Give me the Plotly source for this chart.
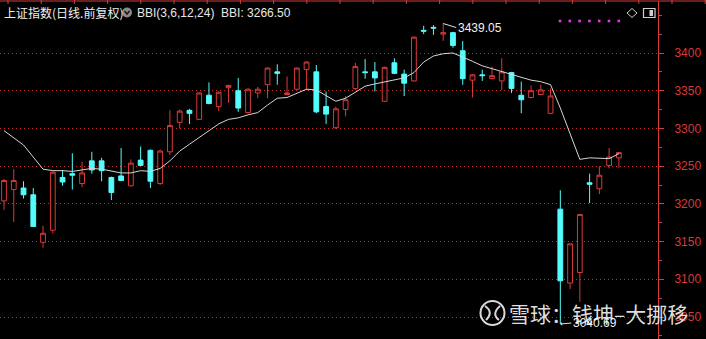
import plotly.graph_objects as go

# ---------------- data ----------------
days = list(range(64))
opens = [3204, 3219, 3221, 3212, 3149, 3165, 3235, 3240, 3227, 3257,
         3257, 3235, 3237, 3224, 3258, 3271, 3227, 3269, 3308, 3324,
         3312, 3344, 3329, 3354, 3350, 3321, 3347, 3358, 3375, 3345,
         3352, 3378, 3375, 3329, 3301, 3325, 3353, 3375, 3375, 3336,
         3387, 3372, 3363, 3430, 3434, 3425, 3427, 3403, 3364, 3371,
         3366, 3363, 3374, 3344, 3341, 3345, 3320, 3193, 3095, 3109,
         3228, 3220, 3251, 3261]
highs = [3233, 3246, 3230, 3221, 3171, 3243, 3245, 3267, 3256, 3269,
         3261, 3236, 3274, 3259, 3276, 3272, 3272, 3324, 3325, 3326,
         3348, 3361, 3349, 3358, 3367, 3353, 3355, 3381, 3385, 3369,
         3381, 3389, 3384, 3349, 3329, 3343, 3387, 3392, 3388, 3382,
         3393, 3378, 3422, 3436, 3437, 3439.05, 3428, 3416, 3372, 3378,
         3382, 3393, 3375, 3362, 3357, 3358, 3353, 3218, 3147, 3186,
         3240, 3250, 3274, 3269]
lows = [3192, 3176, 3207, 3170, 3142, 3161, 3224, 3219, 3222, 3240,
        3230, 3205, 3230, 3223, 3250, 3221, 3225, 3265, 3300, 3306,
        3311, 3332, 3323, 3334, 3322, 3320, 3340, 3340, 3358, 3344,
        3351, 3351, 3320, 3306, 3299, 3316, 3351, 3366, 3349, 3335,
        3372, 3343, 3362, 3425, 3424, 3416, 3407, 3358, 3341, 3363,
        3365, 3351, 3347, 3320, 3340, 3344, 3319, 3040.69, 3087, 3070,
        3201, 3213, 3247, 3248]
closes = [3231, 3231, 3212, 3170, 3161, 3242, 3229, 3238, 3241, 3245,
          3244, 3215, 3231, 3254, 3251, 3230, 3270, 3304, 3323, 3320,
          3347, 3333, 3348, 3357, 3327, 3352, 3352, 3380, 3373, 3347,
          3380, 3388, 3322, 3319, 3326, 3338, 3382, 3374, 3367, 3381,
          3373, 3360, 3421, 3429, 3433, 3427, 3410, 3366, 3371, 3370,
          3370, 3375, 3353, 3338, 3350, 3351, 3343, 3098, 3147, 3186,
          3226, 3238, 3262, 3268]
bbi = [3297, 3288, 3278, 3262, 3246, 3244, 3244, 3243, 3245, 3247,
       3246, 3243, 3241, 3241, 3244, 3243, 3247, 3257, 3270, 3279,
       3288, 3298, 3306, 3312, 3314, 3318, 3321, 3331, 3340, 3341,
       3347, 3352, 3351, 3344, 3336, 3340, 3348, 3356, 3359, 3362,
       3364, 3367, 3374, 3388, 3396, 3399, 3400, 3395, 3389, 3383,
       3379, 3375, 3371, 3368, 3364, 3362, 3358, 3327, 3293, 3259,
       3261, 3261, 3260, 3266.5]
price_ticks = [3050, 3100, 3150, 3200, 3250, 3300, 3350, 3400]
hi_label = "3439.05"
lo_label = "3040.69"
title_main = "上证指数(日线.前复权)"
title_ind = "BBI(3,6,12,24)  BBI: 3266.50"
watermark = "雪球：钱坤–大挪移"

# ---------------- styling ----------------
RED = "#d83a3a"
CYAN = "#54fcfc"
GRID = "#c03030"
W, T, H = 658.0, 1.0, 338.0


def px(x):
    return x / W


def py(y):
    return 1 - (y - T) / H


fig = go.Figure()
fig.add_trace(go.Candlestick(
    x=days, open=opens, high=highs, low=lows, close=closes,
    increasing=dict(line=dict(color=RED, width=1), fillcolor="#000000"),
    decreasing=dict(line=dict(color=CYAN, width=1), fillcolor=CYAN),
    whiskerwidth=0, showlegend=False, hoverinfo="skip"))
fig.add_trace(go.Scatter(
    x=days, y=bbi, mode="lines", line=dict(color="#d6d6d6", width=1),
    showlegend=False, hoverinfo="skip"))

shapes = []
# top border line with little ticks
shapes.append(dict(type="line", xref="paper", yref="paper", x0=0, x1=706 / W,
                   y0=py(1), y1=py(1), line=dict(color=RED, width=1)))
k = 8.0
while k < 706:
    shapes.append(dict(type="line", xref="paper", yref="paper", x0=px(k), x1=px(k),
                       y0=py(0), y1=py(4), line=dict(color=RED, width=1)))
    k += 33.2
# title icon (grey circle with chevron)
shapes.append(dict(type="circle", xref="paper", yref="paper", x0=px(122), x1=px(132),
                   y0=py(17.5), y1=py(7.5), fillcolor="#8a8a8a", line=dict(width=0)))
shapes.append(dict(type="path", xref="paper", yref="paper",
                   path=f"M {px(124.5)} {py(11)} L {px(127)} {py(14)} L {px(129.5)} {py(11)}",
                   line=dict(color="#1a1a1a", width=1.5)))
# magenta dots
for i in range(7):
    cx = 560 + i * 9.8
    shapes.append(dict(type="rect", xref="paper", yref="paper", x0=px(cx - 1.3), x1=px(cx + 1.3),
                       y0=py(22.3), y1=py(19.7), fillcolor="#e23ae2", line=dict(width=0)))
# diamond icon
shapes.append(dict(type="path", xref="paper", yref="paper",
                   path=f"M {px(632)} {py(8.5)} L {px(637)} {py(13)} L {px(632)} {py(17.5)} L {px(627)} {py(13)} Z",
                   line=dict(color="#d0d0d0", width=1)))
# window icon
shapes.append(dict(type="rect", xref="paper", yref="paper", x0=px(643.5), x1=px(655),
                   y0=py(17.5), y1=py(8.5), line=dict(color="#d0d0d0", width=1.2)))
shapes.append(dict(type="rect", xref="paper", yref="paper", x0=px(649.5), x1=px(653),
                   y0=py(16), y1=py(10), fillcolor="#d0d0d0", line=dict(width=0)))
# watermark logo
shapes.append(dict(type="circle", xref="paper", yref="paper", x0=px(480.5), x1=px(504.5),
                   y0=py(325), y1=py(301), line=dict(color="rgba(255,255,255,0.85)", width=2)))
shapes.append(dict(type="path", xref="paper", yref="paper",
                   path=f"M {px(485)} {py(306)} Q {px(494)} {py(312)} {px(486)} {py(320)}",
                   line=dict(color="rgba(255,255,255,0.85)", width=2)))
shapes.append(dict(type="path", xref="paper", yref="paper",
                   path=f"M {px(500)} {py(306)} Q {px(491)} {py(314)} {px(499)} {py(320)}",
                   line=dict(color="rgba(255,255,255,0.85)", width=2)))

annotations = [
    dict(xref="paper", yref="paper", x=px(2), y=py(12.5), xanchor="left", yanchor="middle",
         text=title_main, showarrow=False,
         font=dict(family="Noto Sans CJK SC", size=12, color="#f0f0f0")),
    dict(xref="paper", yref="paper", x=px(135), y=py(12.5), xanchor="left", yanchor="middle",
         text=title_ind, showarrow=False,
         font=dict(family="Liberation Sans", size=12, color="#e8e8e8")),
    dict(x=45, y=3439.05, xref="x", yref="y", text=hi_label, xanchor="left", yanchor="middle",
         showarrow=True, arrowhead=0, arrowwidth=1, arrowcolor="#e0e0e0", ax=13, ay=4,
         font=dict(family="Liberation Sans", size=12, color="#f0f0f0")),
    dict(x=57, y=3040.69, xref="x", yref="y", text=lo_label, xanchor="left", yanchor="middle",
         showarrow=True, arrowhead=1, arrowsize=0.6, arrowwidth=1, arrowcolor="#e0e0e0", ax=11, ay=-1,
         font=dict(family="Liberation Sans", size=12, color="#f0f0f0")),
    dict(xref="paper", yref="paper", x=px(507), y=py(313), xanchor="left", yanchor="middle",
         text=watermark, showarrow=False,
         font=dict(family="Noto Sans CJK SC", size=21, color="rgba(255,255,255,0.88)")),
]

r0 = -4 / 9.76
fig.update_layout(
    width=706, height=339,
    margin=dict(l=0, r=706 - int(W), t=int(T), b=0, pad=0),
    paper_bgcolor="#000000", plot_bgcolor="#000000",
    shapes=shapes, annotations=annotations,
    xaxis=dict(range=[r0, r0 + W / 9.76], visible=False, rangeslider=dict(visible=False),
               fixedrange=True),
    yaxis=dict(side="right", range=[3400 - (339 - 53) / 0.7543, 3400 + (53 - 1) / 0.7543],
               tickvals=price_ticks, ticktext=[str(v) for v in price_ticks],
               tickfont=dict(family="Liberation Sans", size=12, color=RED),
               ticks="outside", ticklen=5, tickcolor=RED, ticklabelstandoff=8,
               showline=True, linecolor=RED, linewidth=1,
               showgrid=True, gridcolor=GRID, griddash="1px,3px", gridwidth=1,
               zeroline=False, automargin=False, fixedrange=True,
               minor=dict(dtick=25, tick0=3050, ticks="outside", ticklen=3, tickcolor=RED,
                          showgrid=False)),
)

fig.write_html("out.html")
